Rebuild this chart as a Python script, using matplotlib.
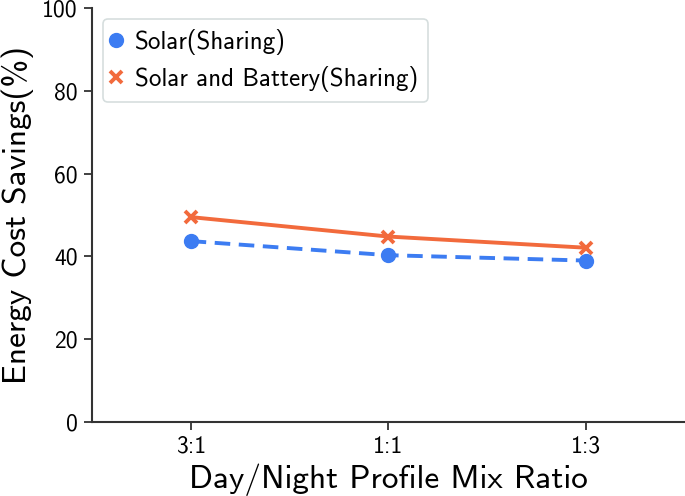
import matplotlib
matplotlib.use("Agg")
import matplotlib.pyplot as plt

categories = ["3:1", "1:1", "1:3"]
solar = [43.7, 40.3, 39.0]
solar_battery = [49.5, 44.8, 42.1]
yticks = [0, 20, 40, 60, 80, 100]

plt.rcParams['font.family'] = ['cmss10', 'DejaVu Sans']
plt.rcParams['axes.unicode_minus'] = False

fig = plt.figure(figsize=(6.85, 4.96), dpi=100)
ax = fig.add_axes([0.134, 0.149, 0.866, 0.835])

blue = '#3c7cf2'
orange = '#f26a3c'
x = list(range(len(categories)))
ax.plot(x, solar, color=blue, lw=2.8, ls=(0, (4, 2.2)), marker='o', ms=10,
        label='Solar(Sharing)', zorder=3)
ax.plot(x, solar_battery, color=orange, lw=2.8, ls='-', marker='x', ms=8.5, mew=2.8,
        label='Solar and Battery(Sharing)', zorder=2)

ax.set_xlim(-0.5, 2.5)
ax.set_ylim(0, 100)
ax.set_xticks(x)
ax.set_xticklabels(categories)
ax.set_yticks(yticks)
for s in ['top', 'right']:
    ax.spines[s].set_visible(False)
for s in ['left', 'bottom']:
    ax.spines[s].set_color('#333333')
    ax.spines[s].set_linewidth(1.5)
ax.tick_params(axis='both', labelsize=17, length=6, width=1.3, color='#333333',
               direction='out', pad=4)
ax.set_xlabel('Day/Night Profile Mix Ratio', fontsize=24, labelpad=4)
ax.set_ylabel('Energy Cost Savings(%)', fontsize=24, labelpad=6)

leg = ax.legend(loc='upper left', fontsize=18, borderaxespad=0.45,
                frameon=True, fancybox=True, handlelength=0.2, handletextpad=0.68,
                borderpad=0.4, labelspacing=0.42, markerscale=1.0)
leg.get_frame().set_edgecolor('#ccd6d6')
leg.get_frame().set_linewidth(1.2)
for h in leg.legend_handles:
    h.set_linestyle('none')

fig.savefig('out.png', dpi=100)
